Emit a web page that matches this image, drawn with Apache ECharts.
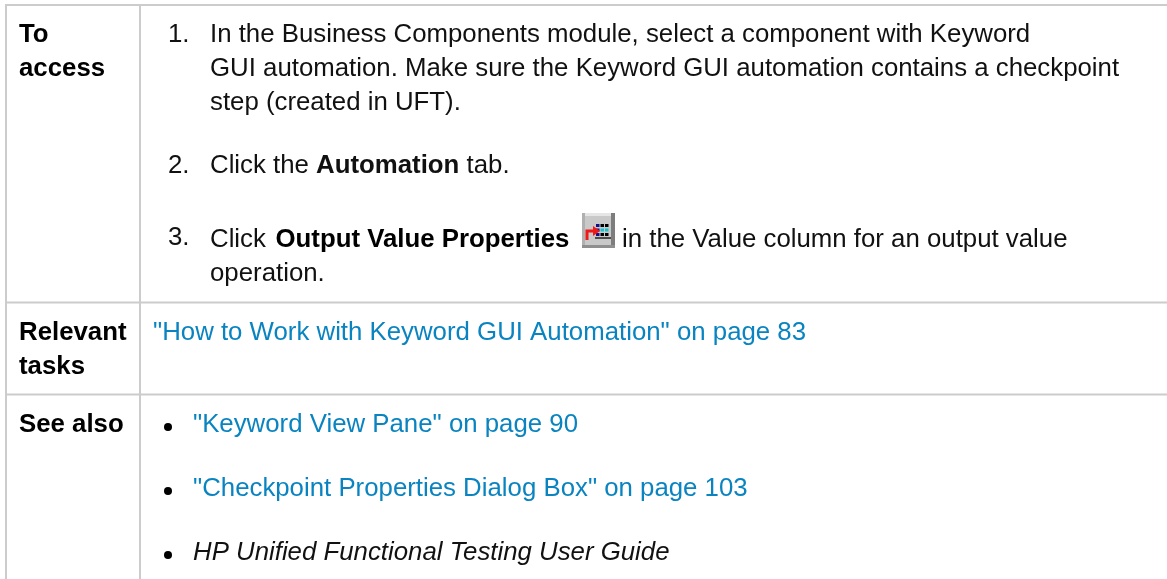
<!DOCTYPE html>
<html>
<head>
<meta charset="utf-8">
<style>
html, body { margin: 0; padding: 0; background: #fff; }
#main { width: 1167px; height: 579px; filter: blur(0.4px); }
</style>
<script src="https://cdn.jsdelivr.net/npm/echarts@6/dist/echarts.min.js"></script>
</head>
<body>
<div id="main"></div>
<script>
// table text, {b|...} = bold run
var rowHeads = [['To', 'access'], ['Relevant', 'tasks'], ['See also']];
var stepNums = ['1.', '2.', '3.'];
var stepLines = [
  ['In the Business Components module, select a component with Keyword',
   'GUI automation. Make sure the Keyword GUI automation contains a checkpoint',
   'step (created in UFT).'],
  ['Click the {b|Automation} tab.'],
  ['Click', 'operation.']
];
var stepBold = 'Output Value Properties';
var stepTail = 'in the Value column for an output value';
var taskLink = '"How to Work with Keyword GUI Automation" on page 83';
var seeAlso = ['"Keyword View Pane" on page 90', '"Checkpoint Properties Dialog Box" on page 103'];
var seeAlsoDoc = 'HP Unified Functional Testing User Guide';

var fontFamily = '"Liberation Sans", Arial, sans-serif';
var fontSize = 25.8;
var lineColor = '#cccccc';
var textColor = '#111111';
var linkColor = '#0a84c1';

var chart = echarts.init(document.getElementById('main'), null, { renderer: 'canvas' });

function txt(x, y, s, color, extra) {
  var style = {
    x: x, y: y, text: s, fill: color || textColor,
    font: fontSize + 'px ' + fontFamily,
    verticalAlign: 'middle',
    rich: { b: { fontWeight: 'bold', fontSize: fontSize, fontFamily: fontFamily, fill: color || textColor } }
  };
  if (extra) Object.keys(extra).forEach(function (k) { style[k] = extra[k]; });
  return { type: 'text', style: style };
}
function bold(x, y, s) {
  return txt(x, y, s, '#000', { font: 'bold ' + fontSize + 'px ' + fontFamily });
}
function line(x1, y1, x2, y2, color, width) {
  return { type: 'line', shape: { x1: x1, y1: y1, x2: x2, y2: y2 }, style: { stroke: color || lineColor, lineWidth: width || 2 } };
}
function dot(x, y) {
  return { type: 'circle', shape: { cx: x, cy: y, r: 4 }, style: { fill: '#000' } };
}
function box(x, y, w, h, fill) {
  return { type: 'rect', shape: { x: x, y: y, width: w, height: h }, style: { fill: fill } };
}

var els = [];
// grid lines
els.push(line(5, 5, 1167, 5), line(5, 302.5, 1167, 302.5), line(5, 394.5, 1167, 394.5));
els.push(line(6, 4, 6, 579), line(140, 4, 140, 579));

// left column
els.push(bold(19, 35, rowHeads[0][0]), bold(19, 69, rowHeads[0][1]));
els.push(bold(19, 333, rowHeads[1][0]), bold(19, 367, rowHeads[1][1]));
els.push(bold(19, 425, rowHeads[2][0]));

// numbered steps
els.push(txt(168, 35, stepNums[0]), txt(168, 166, stepNums[1]), txt(168, 238, stepNums[2]));
els.push(txt(210, 35, stepLines[0][0]), txt(210, 69, stepLines[0][1]), txt(210, 103, stepLines[0][2]));
els.push(txt(210, 166, stepLines[1][0]));
els.push(txt(210, 240, stepLines[2][0]), bold(275.5, 240, stepBold), txt(622, 240, stepTail), txt(210, 274, stepLines[2][1]));

// toolbar icon in step 3
els.push(box(582, 213, 33, 35, '#c9c9c9'));
els.push(box(582, 213, 33, 3, '#e6e6e6'), box(582, 213, 3, 35, '#b0b0b0'));
els.push(box(611, 213, 4, 35, '#7d7d7d'), box(582, 245, 33, 3, '#8f8f8f'));
[224, 228.5, 233].forEach(function (y) {
  [596, 600.5, 605].forEach(function (x, i) {
    els.push(box(x, y, 3.5, 3, (y === 228.5 && i > 0) ? '#12c4d0' : (i === 0 ? '#10108a' : '#000')));
  });
});
els.push(line(595, 238, 611, 238, '#222', 1.5));
els.push({
  type: 'polyline',
  shape: { points: [[587, 240], [587, 231], [594, 231]] },
  style: { stroke: '#f01818', fill: null, lineWidth: 3 }
});
els.push({ type: 'polygon', shape: { points: [[593, 226], [600, 231], [593, 236]] }, style: { fill: '#f01818' } });

// links
els.push(txt(153, 333, taskLink, linkColor));
els.push(dot(168, 427), txt(193, 425, seeAlso[0], linkColor));
els.push(dot(168, 491), txt(193, 489, seeAlso[1], linkColor));
els.push(dot(168, 555), txt(193, 553, seeAlsoDoc, textColor, { font: 'italic ' + fontSize + 'px ' + fontFamily }));

chart.setOption({ animation: false, backgroundColor: '#fff', graphic: { elements: els } });
</script>
</body>
</html>
